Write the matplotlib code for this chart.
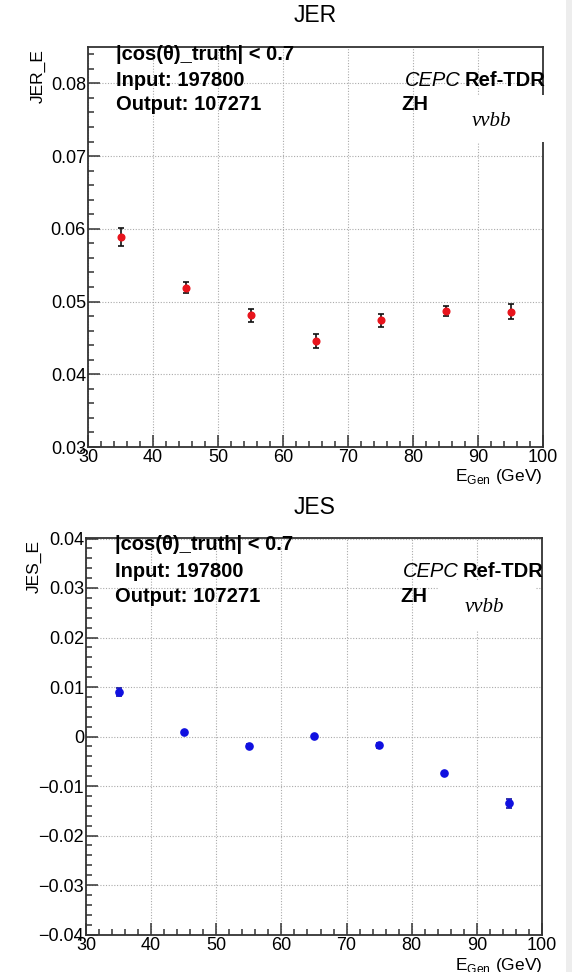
import matplotlib
matplotlib.use("Agg")
import matplotlib.pyplot as plt
from matplotlib.patches import Rectangle
from matplotlib.ticker import MultipleLocator, FuncFormatter

# ── data ─────────────────────────────────────────────────────────────────────
e_gen = [35, 45, 55, 65, 75, 85, 95]

jer_val = [0.0589, 0.0519, 0.0481, 0.0446, 0.0474, 0.0487, 0.0486]
jer_err = [0.0012, 0.00076, 0.0009, 0.00096, 0.00085, 0.0007, 0.0010]

jes_val = [0.0090, 0.00087, -0.00187, 0.0001, -0.0018, -0.0073, -0.01353]
jes_err = [0.00083, 0.0003, 0.0004, 0.0002, 0.0005, 0.0002, 0.0009]

info_lines = ["|cos(θ)_truth| < 0.7", "Input: 197800", "Output: 107271"]

# ── layout helpers (pixel -> figure fraction) ────────────────────────────────
W, H = 572, 972
plt.rcParams["font.family"] = ["Liberation Sans", "DejaVu Sans"]

fig = plt.figure(figsize=(W / 100, H / 100), dpi=100)


def fx(x):
    return x / W


def fy(y):
    return 1 - y / H


def root_fmt(v, pos):
    # ROOT-style labels: 0.01, 0, -0.01
    if abs(v) < 1e-9:
        return "0"
    return f"{v:.2f}".replace("-", "\u2212")


def make_panel(left, right, top, bottom, ylim, ymajor, yminor):
    ax = fig.add_axes([fx(left), fy(bottom), fx(right) - fx(left), fy(top) - fy(bottom)])
    ax.set_xlim(30, 100)
    ax.set_ylim(*ylim)
    ax.xaxis.set_major_locator(MultipleLocator(10))
    ax.xaxis.set_minor_locator(MultipleLocator(2))
    ax.yaxis.set_major_locator(MultipleLocator(ymajor))
    ax.yaxis.set_minor_locator(MultipleLocator(yminor))
    ax.yaxis.set_major_formatter(FuncFormatter(root_fmt))
    ax.tick_params(which="both", direction="in", top=False, right=False,
                   width=1.1, color="#333333", labelsize=13)
    ax.tick_params(which="major", length=8.5)
    ax.tick_params(which="minor", length=4.5)
    ax.tick_params(axis="x", pad=1.5)
    ax.tick_params(axis="y", pad=1.5)
    ax.grid(True, which="major", color="#aaaaaa", linestyle=(0, (1, 1.5)), linewidth=0.8)
    for s in ax.spines.values():
        s.set_linewidth(1.3)
        s.set_color("#333333")
    return ax


# ── JER panel ────────────────────────────────────────────────────────────────
ax1 = make_panel(88, 543, 47, 447, (0.03, 0.085), 0.01, 0.002)
ax1.errorbar(e_gen, jer_val, yerr=jer_err, fmt="o", color="#e8141c", ms=4.8,
             ecolor="#111111", elinewidth=1.2, capsize=2.3, capthick=1.2, zorder=3)

# ── JES panel ────────────────────────────────────────────────────────────────
ax2 = make_panel(86, 542, 538.5, 934.5, (-0.04, 0.04), 0.01, 0.002)
ax2.errorbar(e_gen, jes_val, yerr=jes_err, fmt="o", color="#1010e0", ms=5.2,
             ecolor="#1010a0", elinewidth=1.2, capsize=2.0, capthick=1.2, zorder=3)

TXT = 14.5


def annotate(title, ylab, title_y, ylab_x, ylab_top, text_left, rows, right_x,
             zh_left, vv_left, vv_base, xlab_right, xlab_top, patch):
    fig.text(fx(315), fy(title_y), title, ha="center", va="center", fontsize=16.5)
    fig.text(fx(ylab_x), fy(ylab_top), ylab, rotation=90, ha="center", va="top",
             fontsize=12.5)
    for line, yy in zip(info_lines, rows):
        fig.text(fx(text_left), fy(yy), line, ha="left", va="center",
                 fontsize=TXT, fontweight="bold")
    t = fig.text(fx(right_x), fy(rows[1]), "Ref-TDR", ha="right", va="center",
                 fontsize=TXT, fontweight="bold")
    fig.canvas.draw()
    bb = t.get_window_extent()
    fig.text(bb.x0 / W - 0.008, fy(rows[1]), "CEPC", ha="right", va="center",
             fontsize=TXT, style="italic")
    fig.text(fx(zh_left), fy(rows[2]), "ZH", ha="left", va="center",
             fontsize=TXT, fontweight="bold")
    x0, y0, x1, y1 = patch
    fig.patches.append(Rectangle((fx(x0), fy(y1)), fx(x1) - fx(x0), fy(y0) - fy(y1),
                                 transform=fig.transFigure, facecolor="white",
                                 edgecolor="none", zorder=2))
    fig.text(fx(vv_left), fy(vv_base), "vvbb", ha="left", va="baseline",
             fontsize=15, style="italic", family="Liberation Serif", zorder=3)
    fig.text(fx(xlab_right), fy(xlab_top), r"E$_{\mathregular{Gen}}$ (GeV)",
             ha="right", va="top", fontsize=12.5)


annotate("JER", "JER_E", 15, 38, 49, 116, [55, 80.5, 104], 546, 401, 472, 126,
         542, 467, (440, 95, 549, 142))
annotate("JES", "JES_E", 508, 34, 540, 115, [545, 571.5, 596.5], 544, 400, 465, 612.5,
         542, 955.5, (438, 580, 535, 630))

# light grey strip at the right edge of the screenshot
fig.patches.append(Rectangle((fx(566), 0), fx(W) - fx(566), 1, transform=fig.transFigure,
                             facecolor="#ededed", edgecolor="none", zorder=2))

fig.savefig("out.png", dpi=100)
